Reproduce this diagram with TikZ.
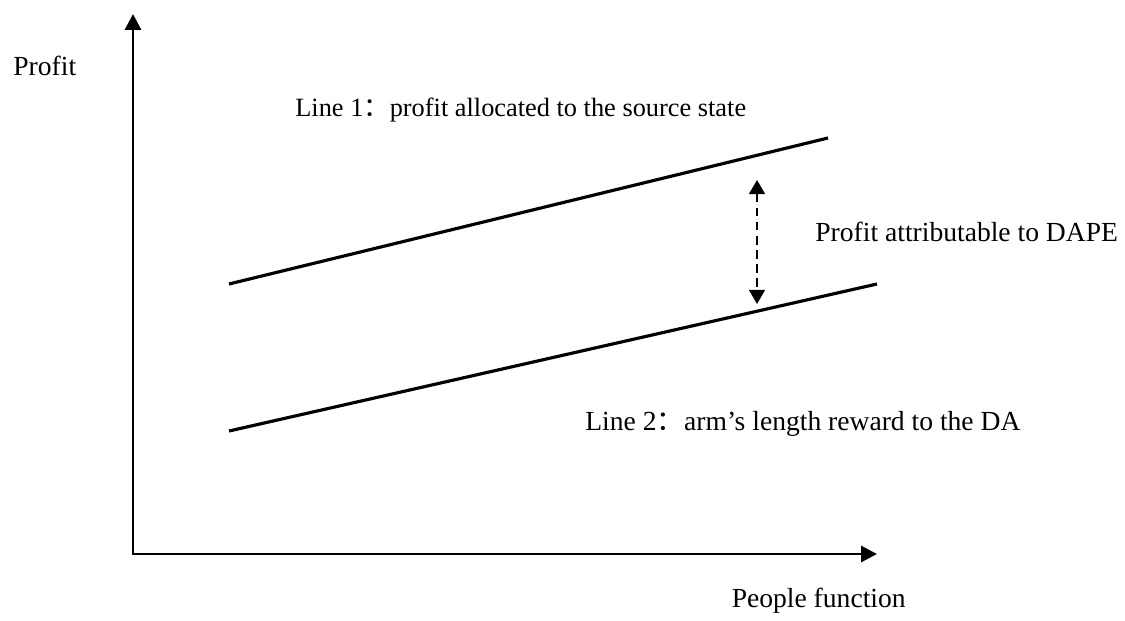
\documentclass[tikz,border=0pt]{standalone}
\usepackage{fontspec}
\setmainfont{Liberation Serif}
\newfontfamily\cjk{Noto Sans CJK SC}
\usetikzlibrary{arrows.meta, positioning}

\begin{document}
\begin{tikzpicture}[x=0.02cm,y=-0.02cm,
    font=\fontsize{15.7}{18}\selectfont,
    axis/.style={line width=1.7pt,{Triangle[length=9pt,width=9pt]}-{Triangle[length=9pt,width=9pt]}},
    profitline/.style={line width=1.8pt},
    gap/.style={line width=1.1pt,dash pattern=on 5pt off 3pt,{Triangle[length=8pt,width=9pt]}-{Triangle[length=8pt,width=9pt]}},
    lbl/.style={anchor=base west,inner sep=0pt}]

    \useasboundingbox (0,0) rectangle (1125,621);

    % axes
    \coordinate (O)    at (133,554);
    \coordinate (ytip) at (133,14);
    \coordinate (xtip) at (877,554);
    \draw[axis] (ytip) -- (O) -- (xtip);

    % the two lines
    \coordinate (l1a) at (229,284);
    \coordinate (l1b) at (828,138);
    \coordinate (l2a) at (229,431);
    \coordinate (l2b) at (877,284);
    \draw[profitline] (l1a) -- (l1b);
    \draw[profitline] (l2a) -- (l2b);

    % difference between them
    \coordinate (gtop) at (757,180);
    \coordinate (gbot) at (757,304);
    \draw[gap] (gtop) -- (gbot);

    \node[lbl] (yname) at (13,76) {Profit};
    \node[lbl,font=\fontsize{15}{18}\selectfont] (line1) at (295,117) {Line 1{\cjk ：}profit allocated to the source state};
    \node[lbl] (dape)  at (815,242) {Profit attributable to DAPE};
    \node[lbl] (line2) at (585,430) {Line 2{\cjk ：}arm’s length reward to the DA};
    \node[lbl,anchor=base east] (xname) at (906,607) {People function};
\end{tikzpicture}
\end{document}
